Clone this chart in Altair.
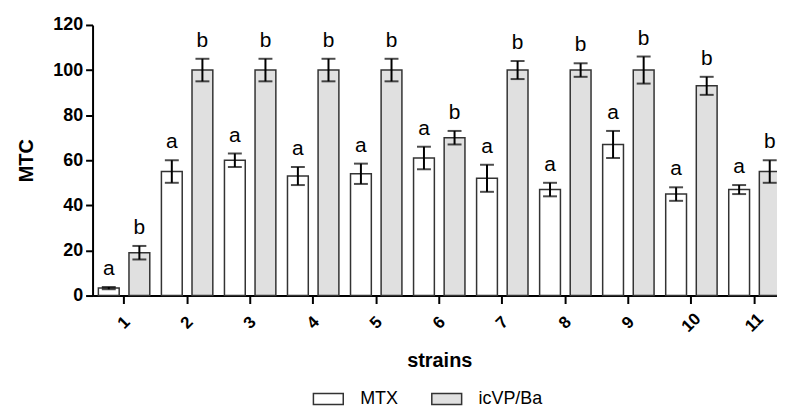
import altair as alt
import pandas as pd

strains = ["1", "2", "3", "4", "5", "6", "7", "8", "9", "10", "11"]
groups = ["MTX", "icVP/Ba"]
mtx_mean = [3.3, 55, 60, 53, 54, 61, 52, 47, 67, 45, 47]
mtx_err = [0.5, 5, 3, 4, 4.5, 5, 6, 3, 6, 3, 2]
icvp_mean = [19, 100, 100, 100, 100, 70, 100, 100, 100, 93, 55]
icvp_err = [3, 5, 5, 5, 5, 3, 4, 3, 6, 4, 5]
letters = {"MTX": "a", "icVP/Ba": "b"}
y_ticks = [0, 20, 40, 60, 80, 100, 120]

rows = []
for i, s in enumerate(strains):
    for g, m, e in (("MTX", mtx_mean[i], mtx_err[i]), ("icVP/Ba", icvp_mean[i], icvp_err[i])):
        rows.append({"strain": s, "group": g, "mean": m, "lo": m - e, "hi": m + e, "letter": letters[g]})
df = pd.DataFrame(rows)

FONT = "Liberation Sans"

x_enc = alt.X(
    "strain:N", sort=strains,
    scale=alt.Scale(paddingInner=0, paddingOuter=0),
    axis=alt.Axis(
        title="strains", titleFont=FONT, titleFontSize=20, titleFontWeight="bold", titleColor="black",
        titlePadding=16,
        labelFont=FONT, labelFontSize=17, labelFontWeight="bold", labelColor="black",
        labelAngle=315, labelAlign="center", labelBaseline="middle", labelPadding=19,
        tickSize=8, tickWidth=2, tickColor="black", domainWidth=2, domainColor="black", grid=False,
    ),
)
xo_enc = alt.XOffset("group:N", sort=groups, scale=alt.Scale(paddingInner=0.32, paddingOuter=0.19))
y_scale = alt.Scale(domain=[0, 120], nice=False)
y_axis = alt.Axis(
    values=y_ticks, title="MTC", titleFont=FONT, titleFontSize=20, titleFontWeight="bold", titleColor="black",
    titlePadding=16,
    labelFont=FONT, labelFontSize=18, labelFontWeight="bold", labelColor="black", labelPadding=3,
    tickSize=7, tickWidth=2, tickColor="black", domainWidth=2, domainColor="black", grid=False,
)

base = alt.Chart(df).encode(x=x_enc, xOffset=xo_enc)

bars = base.mark_bar(stroke="#333333", strokeWidth=1.5).encode(
    y=alt.Y("mean:Q", scale=y_scale, axis=y_axis),
    fill=alt.Fill(
        "group:N", sort=groups,
        scale=alt.Scale(domain=groups, range=["#ffffff", "#e0e0e0"]),
        legend=alt.Legend(
            title=None, orient="none", direction="horizontal", legendX=221, legendY=360,
            symbolType="M-1,-0.367L1,-0.367L1,0.367L-1,0.367Z", symbolSize=900,
            symbolStrokeColor="#333333", symbolStrokeWidth=1.5,
            labelFont=FONT, labelFontSize=18, labelColor="black", labelOffset=16,
            columnPadding=31, padding=0,
        ),
    ),
)

rules = base.mark_rule(color="black", strokeWidth=2).encode(y=alt.Y("lo:Q", scale=y_scale), y2="hi:Q")
cap_hi = base.mark_tick(color="black", thickness=2, size=14).encode(y=alt.Y("hi:Q", scale=y_scale))
cap_lo = base.mark_tick(color="black", thickness=2, size=14).encode(y=alt.Y("lo:Q", scale=y_scale))
labels = base.mark_text(baseline="bottom", dy=-8, font=FONT, fontSize=21, color="black").encode(
    y=alt.Y("hi:Q", scale=y_scale), text="letter:N"
)

chart = alt.layer(bars, rules, cap_hi, cap_lo, labels).properties(
    width=697, height=272, padding={"left": 8, "top": 7, "right": -9, "bottom": 0}
).configure_view(stroke=None)

chart.save("out.html", embed_options={"renderer": "svg", "actions": False})
